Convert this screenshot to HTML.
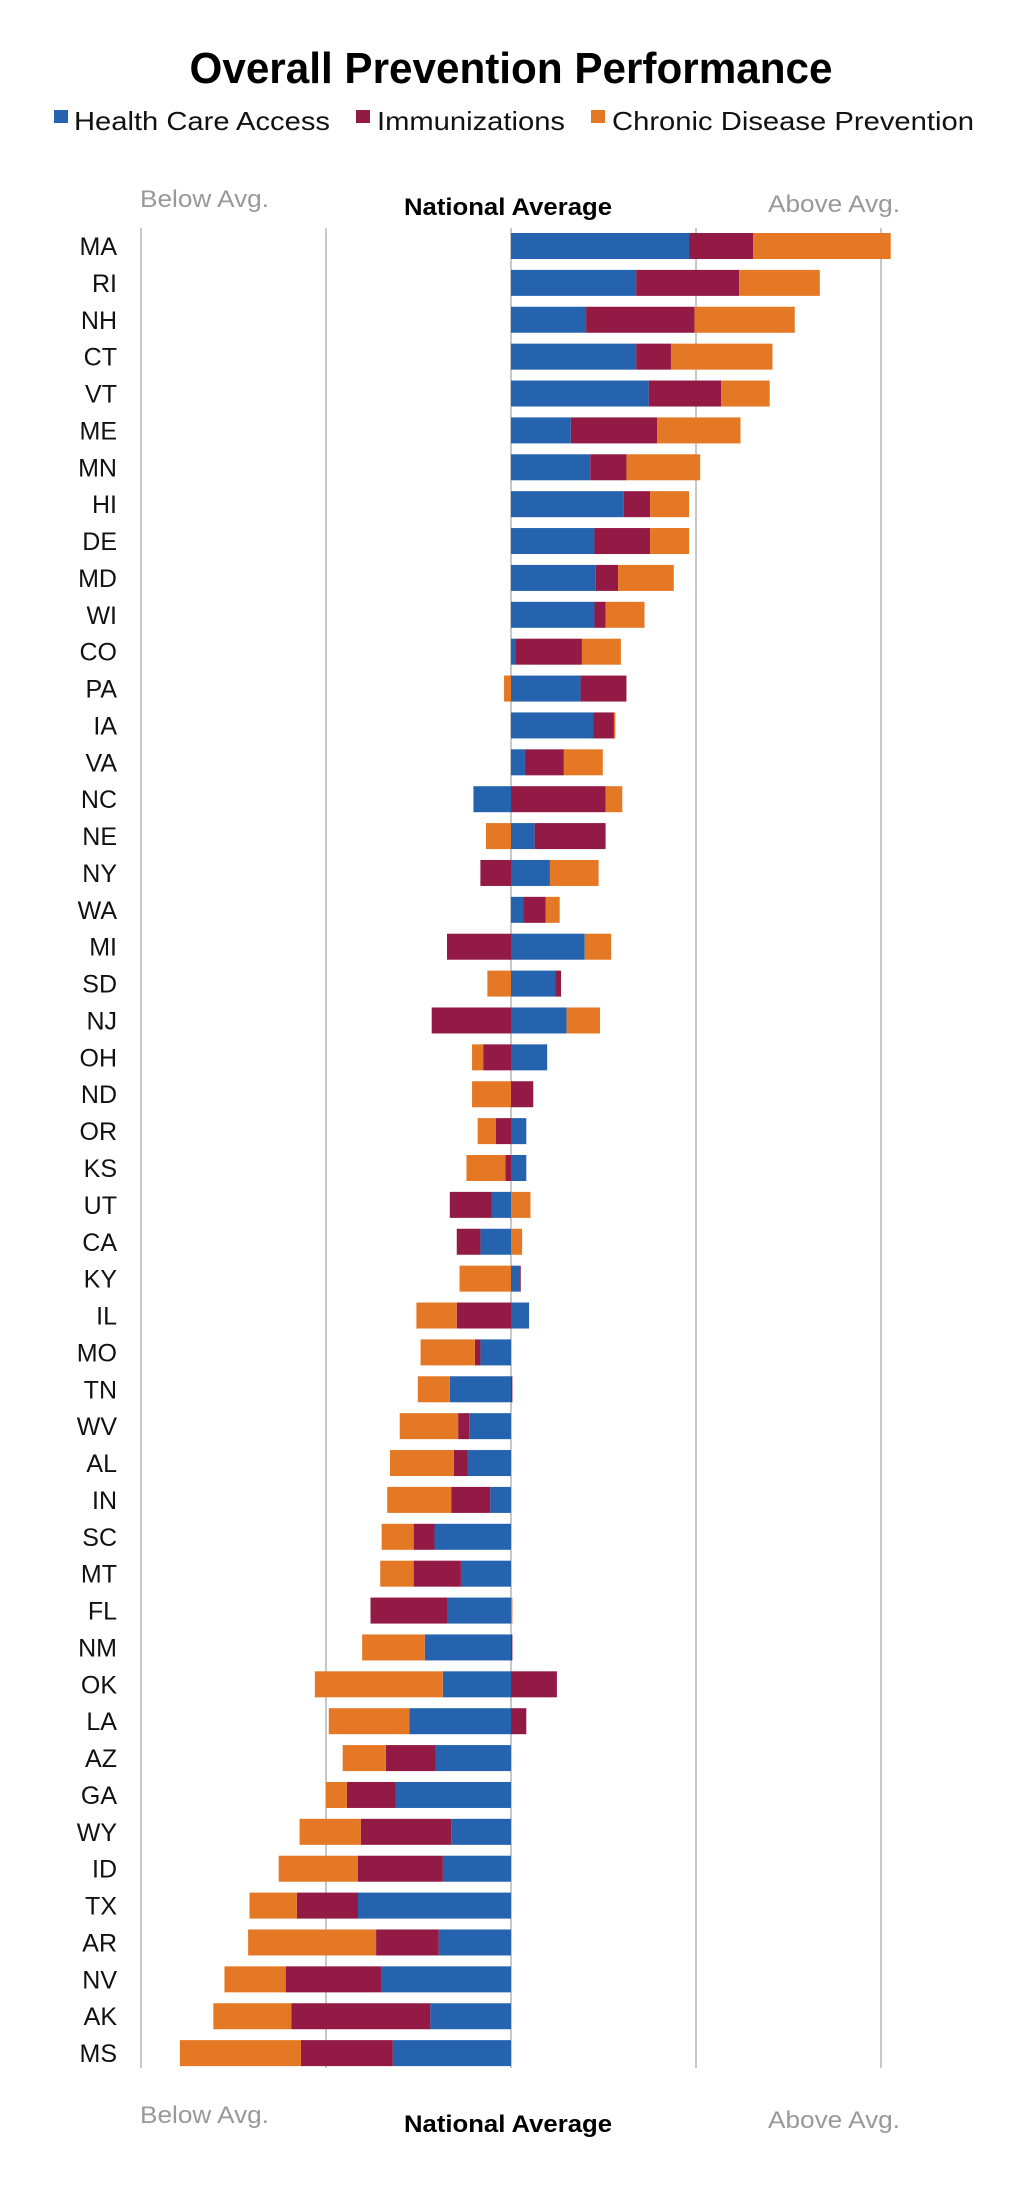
<!DOCTYPE html>
<html><head><meta charset="utf-8"><style>
html,body{margin:0;padding:0;background:#fff;}
svg{display:block;}
</style></head><body>
<svg id="chart" width="1014" height="2186" viewBox="0 0 1014 2186" xmlns="http://www.w3.org/2000/svg">
<text x="511" y="83" text-anchor="middle" font-family="Liberation Sans, sans-serif" font-weight="bold" font-size="44" textLength="643" lengthAdjust="spacingAndGlyphs">Overall Prevention Performance</text>
<g font-family="Liberation Sans, sans-serif" font-size="26" fill="#111">
  <rect x="54" y="110" width="14" height="13" fill="#2563AE"/>
  <text x="74" y="130" textLength="256" lengthAdjust="spacingAndGlyphs">Health Care Access</text>
  <rect x="356" y="110" width="14" height="13" fill="#921A44"/>
  <text x="377" y="130" textLength="188" lengthAdjust="spacingAndGlyphs">Immunizations</text>
  <rect x="591" y="110" width="14" height="13" fill="#E57825"/>
  <text x="612" y="130" textLength="362" lengthAdjust="spacingAndGlyphs">Chronic Disease Prevention</text>
</g>
<g font-family="Liberation Sans, sans-serif" font-size="24">
  <text x="140" y="207" fill="#999" textLength="129" lengthAdjust="spacingAndGlyphs">Below Avg.</text>
  <text x="404" y="215" fill="#000" font-weight="bold" textLength="208" lengthAdjust="spacingAndGlyphs">National Average</text>
  <text x="768" y="212" fill="#999" textLength="132" lengthAdjust="spacingAndGlyphs">Above Avg.</text>
  <text x="140" y="2123" fill="#999" textLength="129" lengthAdjust="spacingAndGlyphs">Below Avg.</text>
  <text x="404" y="2132" fill="#000" font-weight="bold" textLength="208" lengthAdjust="spacingAndGlyphs">National Average</text>
  <text x="768" y="2128" fill="#999" textLength="132" lengthAdjust="spacingAndGlyphs">Above Avg.</text>
</g>
<g id="grid"></g>
<g id="bars"></g>
<g id="labels"></g>
</svg>
<script>
const states = ["MA","RI","NH","CT","VT","ME","MN","HI","DE","MD","WI","CO","PA","IA","VA","NC","NE","NY","WA","MI","SD","NJ","OH","ND","OR","KS","UT","CA","KY","IL","MO","TN","WV","AL","IN","SC","MT","FL","NM","OK","LA","AZ","GA","WY","ID","TX","AR","NV","AK","MS"];
const healthCare = [128,90,54,90,99,43,57,81,60,61,60,3,50,59,10,-27,17,28,9,53,32,40,26,0,11,11,-14,-22,6,13,-22,-44,-30,-31,-15,-55,-36,-46,-62,-49,-73,-54,-83,-43,-49,-110,-52,-93,-58,-85];
const immunizations = [46,74,78,25,52,62,26,19,40,16,8,48,33,15,28,68,51,-22,16,-46,4,-57,-20,16,-11,-4,-30,-17,1,-39,-4,1,-8,-10,-28,-15,-34,-55,1,33,11,-36,-35,-65,-61,-44,-45,-69,-100,-66];
const chronic = [99,58,72,73,35,60,53,28,28,40,28,28,-5,1,28,12,-18,35,10,19,-17,24,-8,-28,-13,-28,14,8,-37,-29,-39,-23,-42,-46,-46,-23,-24,1,-45,-92,-58,-31,-15,-44,-57,-34,-92,-44,-56,-87];
const gridTicks = [-266,-133,0,133,266];

const NS = "http://www.w3.org/2000/svg";
const x0 = 511, unit = 185/133;
const xs = v => x0 + v * unit;
const rowY = i => 246 + i * 36.88;
const barH = 26;
const grid = document.getElementById('grid');
const bars = document.getElementById('bars');
const labels = document.getElementById('labels');

gridTicks.forEach(t => {
  const l = document.createElementNS(NS, 'line');
  
  
  l.setAttribute('x1', xs(t)); l.setAttribute('x2', xs(t));
  l.setAttribute('y1', 228); l.setAttribute('y2', 2068);
  l.setAttribute('stroke', '#c8c8c8'); l.setAttribute('stroke-width', 2);
  grid.appendChild(l);
});

const series = [
  {vals: healthCare, color: '#2563AE', key: 'health-care-access'},
  {vals: immunizations, color: '#921A44', key: 'immunizations'},
  {vals: chronic, color: '#E57825', key: 'chronic-disease'}
];

states.forEach((s, i) => {
  const cy = rowY(i);
  let pos = 0, neg = 0;
  series.forEach(se => {
    const v = se.vals[i];
    if (!v) return;
    let a, b;
    if (v > 0) { a = pos; b = pos + v; pos = b; } else { a = neg + v; b = neg; neg = a; }
    const r = document.createElementNS(NS, 'rect');
    
    
    r.setAttribute('x', xs(a)); r.setAttribute('width', xs(b) - xs(a));
    r.setAttribute('y', cy - barH/2); r.setAttribute('height', barH);
    r.setAttribute('fill', se.color);
    bars.appendChild(r);
  });
  const t = document.createElementNS(NS, 'text');
  
  
  t.setAttribute('x', 117); t.setAttribute('y', cy + 9);
  t.setAttribute('text-anchor', 'end');
  t.setAttribute('font-family', 'Liberation Sans, sans-serif');
  t.setAttribute('font-size', '25');
  t.setAttribute('fill', '#111');
  t.textContent = s;
  labels.appendChild(t);
});
</script>
</body></html>
